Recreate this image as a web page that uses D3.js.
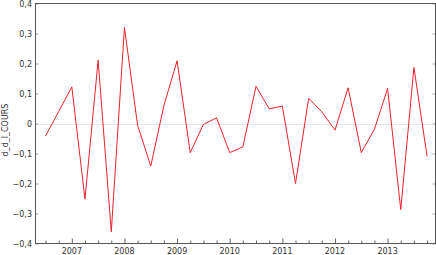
<!DOCTYPE html>
<html>
<head>
<meta charset="utf-8">
<script src="https://cdn.jsdelivr.net/npm/d3@7"></script>
<style>
  body { margin: 0; background: #fff; }
  svg text { font-family: "DejaVu Sans", Verdana, sans-serif; }
</style>
</head>
<body>
<div id="chart"></div>
<script>
// quarterly dates (decimal years) and values
let dates = [2006.5, 2006.75,
  2007, 2007.25, 2007.5, 2007.75,
  2008, 2008.25, 2008.5, 2008.75,
  2009, 2009.25, 2009.5, 2009.75,
  2010, 2010.25, 2010.5, 2010.75,
  2011, 2011.25, 2011.5, 2011.75,
  2012, 2012.25, 2012.5, 2012.75,
  2013, 2013.25, 2013.5, 2013.75];
let values = [-0.042, 0.04,
  0.122, -0.252, 0.211, -0.361,
  0.32, -0.006, -0.142, 0.06,
  0.209, -0.097, -0.003, 0.019,
  -0.097, -0.078, 0.124, 0.049,
  0.058, -0.2, 0.084, 0.039,
  -0.022, 0.119, -0.097, -0.019,
  0.117, -0.287, 0.187, -0.11];
let years = [2007, 2008, 2009, 2010, 2011, 2012, 2013];
let y_ticks = [-0.4, -0.3, -0.2, -0.1, 0, 0.1, 0.2, 0.3, 0.4];
let y_label = "d_d_l_COURS";

let w = 436, h = 255;
let pad_left = 35.5, pad_right = 435.5, pad_top = 3.5, pad_bottom = 243.5;

let svg = d3.select("#chart")
  .append("svg")
    .attr("width", w)
    .attr("height", h);

// scales
let xScale = d3.scaleLinear()
  .domain([2006.31, 2013.91])
  .range([pad_left, pad_right]);
let yScale = d3.scaleLinear()
  .domain([-0.4, 0.4])
  .range([pad_bottom, pad_top]);

let fmtY = v => v === 0 ? "0" : d3.format(".1f")(v).replace(".", ",");

// zero line
svg.append("line")
  .attr("x1", pad_left).attr("x2", pad_right)
  .attr("y1", Math.round(yScale(0)) + 0.5).attr("y2", Math.round(yScale(0)) + 0.5)
  .attr("stroke", "#d0d0d0")
  .attr("stroke-dasharray", "1,1");

// quarter ticks
let quarters = d3.range(2006.5, 2014, 0.25);

// x axis, ticks pointing up into the plot
let xAxis = d3.axisTop(xScale)
  .tickValues(years)
  .tickSize(5)
  .tickFormat("");
let xMinor = d3.axisTop(xScale)
  .tickValues(quarters.filter(q => q % 1 !== 0))
  .tickSize(3)
  .tickFormat("");
svg.append("g")
  .attr("transform", "translate(0," + pad_bottom + ")")
  .call(xAxis)
  .call(g => g.select(".domain").remove())
  .call(g => g.selectAll("line").attr("stroke", "#666"));
svg.append("g")
  .attr("transform", "translate(0," + pad_bottom + ")")
  .call(xMinor)
  .call(g => g.select(".domain").remove())
  .call(g => g.selectAll("line").attr("stroke", "#666"));

svg.append("g")
  .selectAll("text")
  .data(years)
  .join("text")
    .attr("x", d => xScale(d))
    .attr("y", 254)
    .attr("text-anchor", "middle")
    .attr("font-size", "8px")
    .attr("fill", "#333")
    .text(d => d);

// y axes, left and right, ticks inward
let yLeft = d3.axisRight(yScale)
  .tickValues(y_ticks)
  .tickSize(3)
  .tickFormat("");
let yRight = d3.axisLeft(yScale)
  .tickValues(y_ticks)
  .tickSize(3)
  .tickFormat("");
svg.append("g")
  .attr("transform", "translate(" + pad_left + ",0)")
  .call(yLeft)
  .call(g => g.select(".domain").remove())
  .call(g => g.selectAll("line").attr("stroke", "#aaa"));
svg.append("g")
  .attr("transform", "translate(" + pad_right + ",0)")
  .call(yRight)
  .call(g => g.select(".domain").remove())
  .call(g => g.selectAll("line").attr("stroke", "#aaa"));

svg.append("g")
  .selectAll("text")
  .data(y_ticks)
  .join("text")
    .attr("x", 32)
    .attr("y", d => yScale(d) + 3)
    .attr("text-anchor", "end")
    .attr("font-size", "8px")
    .attr("fill", "#333")
    .text(d => fmtY(d));

// frame
svg.append("rect")
  .attr("x", pad_left).attr("y", pad_top)
  .attr("width", pad_right - pad_left).attr("height", pad_bottom - pad_top)
  .attr("fill", "none")
  .attr("stroke", "#555");

// series
let line = d3.line()
  .x((d, i) => xScale(dates[i]))
  .y(d => yScale(d));
svg.append("path")
  .datum(values)
  .attr("fill", "none")
  .attr("stroke", "#e8232b")
  .attr("stroke-width", 1)
  .attr("d", line);

// y label
svg.append("text")
  .attr("transform", "translate(8," + 130 + ") rotate(-90)")
  .attr("text-anchor", "middle")
  .attr("font-size", "8px")
  .attr("fill", "#333")
  .text(y_label);
</script>
</body>
</html>
